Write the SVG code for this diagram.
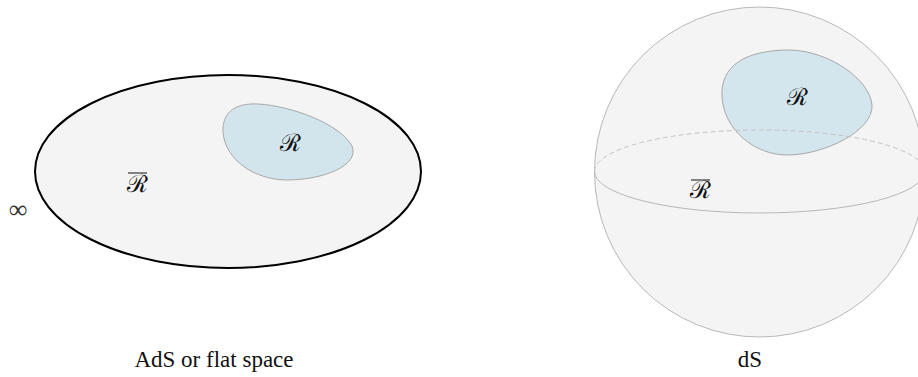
<svg xmlns="http://www.w3.org/2000/svg" width="918" height="377" viewBox="0 0 918 377">
<style>
.lbl{font-family:"DejaVu Serif","Liberation Serif",serif;font-size:24px;fill:#111;text-anchor:middle}
.cap{font-family:"Liberation Serif",serif;font-size:23px;fill:#111;text-anchor:middle}
.blob{fill:#d2e5ec;stroke:#a8a8a8;stroke-width:1}
</style>
<rect width="918" height="377" fill="#ffffff"/>
<g id="ads">
<ellipse cx="228" cy="171.5" rx="193" ry="96.5" fill="#f4f4f4" stroke="#000" stroke-width="2"/>
<path class="blob" d="M223,132 C222,110 238,103 258,104 C292,106 340,124 352,146 C360,166 322,180 287,180 C255,180 225,160 223,132 Z"/>
<text class="lbl" x="290" y="151">ℛ</text>
<text class="lbl" x="137" y="192">ℛ</text>
<line x1="128" y1="173" x2="147" y2="173" stroke="#111" stroke-width="1"/>
<text x="18" y="218" font-family="'Liberation Serif','DejaVu Sans',serif" font-size="26" text-anchor="middle" fill="#333">∞</text>
<text class="cap" x="214" y="367">AdS or flat space</text>
</g>
<g id="ds">
<circle cx="759.5" cy="172" r="165" fill="#f4f4f4" stroke="#b8b8b8" stroke-width="1"/>
<path class="blob" fill-opacity="0.95" d="M722,97 C720,66 745,50 790,50 C830,51 870,80 872,105 C874,130 825,155 787,155 C755,155 724,130 722,97 Z"/>
<path d="M594.5,171.5 A165,41.5 0 0 1 924.5,171.5" fill="none" stroke="#c4c4c4" stroke-width="1" stroke-dasharray="5,3"/>
<path d="M594.5,171.5 A165,41.5 0 0 0 924.5,171.5" fill="none" stroke="#b8b8b8" stroke-width="1"/>
<text class="lbl" x="797" y="105">ℛ</text>
<text class="lbl" x="700" y="198">ℛ</text>
<line x1="691" y1="180" x2="710" y2="180" stroke="#111" stroke-width="1"/>
<text class="cap" x="750" y="367">dS</text>
</g>
</svg>
